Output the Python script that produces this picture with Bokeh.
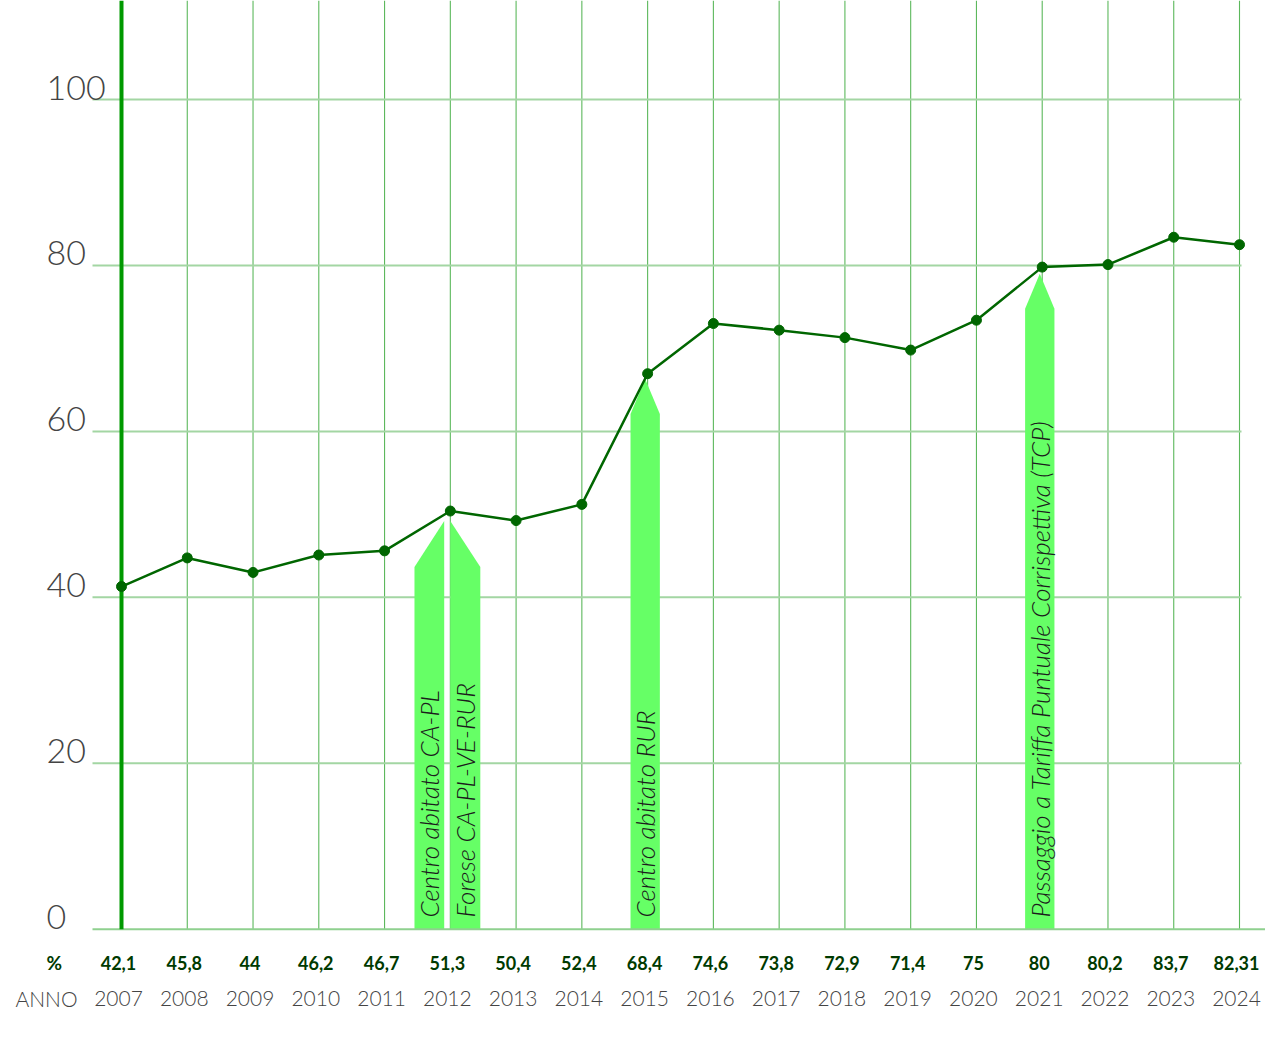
import math
from bokeh.plotting import figure
from bokeh.models import Range1d, ColumnDataSource
from bokeh.core.properties import value
from bokeh.embed import file_html
from bokeh.resources import INLINE

# ---------------- data ----------------
years = list(range(2007, 2025))
pct_labels = ["42,1", "45,8", "44", "46,2", "46,7", "51,3", "50,4", "52,4", "68,4",
              "74,6", "73,8", "72,9", "71,4", "75", "80", "80,2", "83,7", "82,31"]
# values as drawn on the chart
plotted = [41.3, 44.75, 43.0, 45.1, 45.6, 50.4, 49.25, 51.2, 66.95,
           73.0, 72.2, 71.3, 69.8, 73.4, 79.8, 80.1, 83.4, 82.5]
y_ticks = [0, 20, 40, 60, 80, 100]
y_tick_labels = ["0", "20", "40", "60", "80", "100"]

ev_years = [2012, 2012, 2015, 2021]
ev_kind = ["left", "right", "full", "full"]
ev_labels = ["Centro abitato CA-PL", "Forese CA-PL-VE-RUR", "Centro abitato RUR",
             "Passaggio a Tariffa Puntuale Corrispettiva (TCP)"]
ev_tip = [49.2, 49.2, 66.3, 79.0]

row_pct_header = "%"
row_year_header = "ANNO"

# ---------------- layout constants ----------------
W, H = 1265, 1022
PX_YEAR = 65.765
PX_UNIT = 8.297
ZERO_PX = 928.7
X0 = 2007 - 121 / PX_YEAR
X1 = X0 + W / PX_YEAR
Y1 = ZERO_PX / PX_UNIT
Y0 = (ZERO_PX - H) / PX_UNIT

LIGHT = value("'Lato Light', Lato")
BOLD = value("Lato")

p = figure(width=W, height=H, output_backend="svg", toolbar_location=None,
           x_range=Range1d(X0, X1), y_range=Range1d(Y0, Y1),
           x_axis_location=None, y_axis_location=None, min_border=0,
           background_fill_color="white", border_fill_color="white")
p.outline_line_color = None
p.grid.visible = False

# vertical grid lines
p.segment(x0=years[1:], y0=[0] * (len(years) - 1), x1=years[1:], y1=[Y1] * (len(years) - 1),
          line_color="#5cb85c", line_width=1.1)

# horizontal grid lines
gx0 = 2007 - 29 / PX_YEAR
gx1 = 2024 + 2 / PX_YEAR
hv = y_ticks[1:]
p.segment(x0=[gx0] * len(hv), y0=hv, x1=[gx1] * len(hv), y1=hv,
          line_color="#a3d6a3", line_width=2)

# event arrows
xs, ys, tx, ty = [], [], [], []
for yr, kind, tip in zip(ev_years, ev_kind, ev_tip):
    if kind == "left":
        xl, xr = yr - 0.545, yr - 0.093
        sh = tip - 46 / PX_UNIT
        xs.append([xl, xr, xr, xl])
        ys.append([0, 0, tip, sh])
    elif kind == "right":
        xl, xr = yr + 0.0, yr + 0.456
        sh = tip - 46 / PX_UNIT
        xs.append([xl, xr, xr, xl])
        ys.append([0, 0, sh, tip])
    else:
        xl, xr = yr - 0.26, yr + 0.186
        xm = (xl + xr) / 2
        sh = tip - 35 / PX_UNIT
        xs.append([xl, xr, xr, xm, xl])
        ys.append([0, 0, sh, tip, sh])
    tx.append((xl + xr) / 2)
    ty.append(11.7 / PX_UNIT)
p.patches(xs=xs, ys=ys, fill_color="#66ff66", line_color=None)
p.text(x=tx, y=ty, text=ev_labels, angle=math.pi / 2, text_align="left",
       text_baseline="middle", text_font=LIGHT, text_font_style="italic",
       text_font_size="26px", text_color="#1c1c1c")

# zero line
p.segment(x0=[gx0], y0=[0], x1=[2024 + 27 / PX_YEAR], y1=[0],
          line_color="#8fd08f", line_width=2)

# thick 2007 line
p.segment(x0=[years[0]], y0=[0], x1=[years[0]], y1=[Y1], line_color="#009900", line_width=4)

# data line
src = ColumnDataSource(dict(x=years, y=plotted))
p.line("x", "y", source=src, line_color="#006600", line_width=2.5)
p.scatter("x", "y", source=src, size=10, fill_color="#006600", line_color="#006600")

# y tick labels
lab_x = 2007 - 75 / PX_YEAR
p.text(x=[lab_x] * len(y_ticks), y=y_ticks, text=y_tick_labels, text_align="left",
       text_baseline="alphabetic", text_font=LIGHT, text_font_size="34px",
       text_color="#444444", y_offset=-12)

# bottom rows
pct_y = (ZERO_PX - 970) / PX_UNIT
year_y = (ZERO_PX - 1006) / PX_UNIT
xr_off = [y - 3 / PX_YEAR for y in years]
p.text(x=xr_off, y=[pct_y] * len(years), text=pct_labels, text_align="center",
       text_baseline="alphabetic", text_font=BOLD, text_font_style="bold",
       text_font_size="18px", text_color="#003a00", y_offset=-8)
p.text(x=xr_off, y=[year_y] * len(years), text=[str(y) for y in years], text_align="center",
       text_baseline="alphabetic", text_font=LIGHT, text_font_size="21px",
       text_color="#444444", y_offset=-8)
p.text(x=[lab_x], y=[pct_y], text=[row_pct_header], text_align="left",
       text_baseline="alphabetic", text_font=BOLD, text_font_style="bold",
       text_font_size="19px", text_color="#003a00", y_offset=-8)
p.text(x=[2007 - 106 / PX_YEAR], y=[year_y], text=[row_year_header], text_align="left",
       text_baseline="alphabetic", text_font=LIGHT, text_font_size="21px",
       text_color="#444444", y_offset=-8)

open("out.html", "w").write(file_html(p, INLINE))
